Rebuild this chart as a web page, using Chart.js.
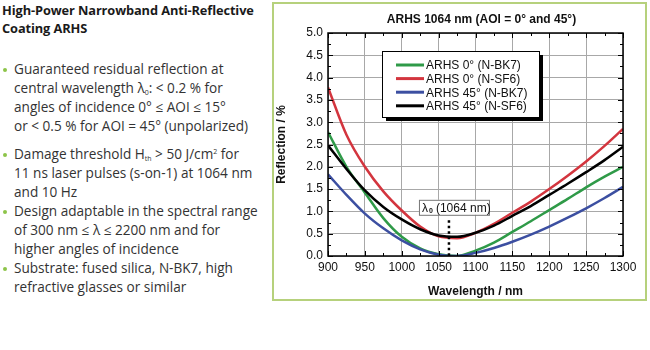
<!DOCTYPE html>
<html lang="en">
<head>
<meta charset="UTF-8">
<title>ARHS 1064 nm</title>
<script src="https://cdn.jsdelivr.net/npm/chart.js"></script>
<style>
    html, body { margin: 0; padding: 0; background: #fff; }
    body { width: 650px; height: 350px; position: relative; overflow: hidden; font-family: "Open Sans", sans-serif; }
    .head { position: absolute; left: 2px; top: 1px; font-weight: bold; font-size: 12.8px; line-height: 18.3px; color: #1a1a1a; white-space: nowrap; letter-spacing: -0.1px; }
    ul.points { position: absolute; left: 0; top: 58.7px; margin: 0; padding: 0; list-style: none; font-size: 13.6px; line-height: 19.1px; color: #333; white-space: nowrap; }
    ul.points li { position: relative; padding-left: 14px; }
    ul.points li:first-child { margin-bottom: 8.5px; }
    ul.points li::before { content: ""; position: absolute; left: 3px; top: 9px; width: 4px; height: 4px; border-radius: 50%; background: #8dc449; }
    sub { font-size: 7px; vertical-align: -2px; line-height: 0; }
    sup { font-size: 7px; vertical-align: 5px; line-height: 0; }
    .frame { position: absolute; left: 272px; top: 2px; width: 375px; height: 299px; border: 2px solid #b6d17c; box-sizing: border-box; background: #fff; }
    .frame canvas { position: absolute; left: 0; top: 0; }
</style>
</head>
<body>
    <div class="head">High-Power Narrowband Anti-Reflective<br>Coating ARHS</div>
    <ul class="points">
        <li>Guaranteed residual reflection at<br>central wavelength λ<sub>0</sub>: &lt; 0.2 % for<br>angles of incidence 0° ≤ AOI ≤ 15°<br>or &lt; 0.5 % for AOI = 45° (unpolarized)</li>
        <li>Damage threshold H<sub>th</sub> &gt; 50 J/cm<sup>2</sup> for<br>11 ns laser pulses (s-on-1) at 1064 nm<br>and 10 Hz</li>
        <li>Design adaptable in the spectral range<br>of 300 nm ≤ λ ≤ 2200 nm and for<br>higher angles of incidence</li>
        <li>Substrate: fused silica, N-BK7, high<br>refractive glasses or similar</li>
    </ul>

    <div class="frame">
        <canvas id="arhsChart" width="371" height="295"></canvas>
    </div>

    <script>
        // wavelength grid (nm) and reflection values (%)
        const wavelengths = [900, 925, 950, 975, 1000, 1025, 1050, 1075, 1100, 1125, 1150, 1175, 1200, 1225, 1250, 1275, 1300];
        const arhs0Bk7  = [2.78, 2.00, 1.42, 0.85, 0.43, 0.17, 0.04, 0.00, 0.12, 0.30, 0.54, 0.78, 1.03, 1.28, 1.54, 1.78, 2.00];
        const arhs0Sf6  = [3.78, 2.72, 2.00, 1.45, 1.02, 0.66, 0.44, 0.40, 0.52, 0.72, 0.97, 1.22, 1.50, 1.80, 2.12, 2.47, 2.85];
        const arhs45Bk7 = [1.83, 1.37, 0.95, 0.62, 0.35, 0.15, 0.03, 0.00, 0.07, 0.18, 0.32, 0.48, 0.66, 0.86, 1.07, 1.30, 1.55];
        const arhs45Sf6 = [2.48, 1.95, 1.47, 1.10, 0.82, 0.60, 0.46, 0.43, 0.52, 0.68, 0.90, 1.12, 1.37, 1.62, 1.88, 2.15, 2.45];

        const seriesLabels = ['ARHS 0° (N-BK7)', 'ARHS 0° (N-SF6)', 'ARHS 45° (N-BK7)', 'ARHS 45° (N-SF6)'];
        const seriesColors = ['#2f9a48', '#d3353e', '#3c4fa1', '#000000'];
        const seriesOrder = [3, 2, 1, 0]; // black on top, as in the original
        const centralWavelength = 1064;
        const chartTitle = 'ARHS 1064 nm (AOI = 0° and 45°)';

        const toPoints = vals => vals.map((v, i) => ({ x: wavelengths[i], y: v }));
        const allSeries = [arhs0Bk7, arhs0Sf6, arhs45Bk7, arhs45Sf6];

        // frame, inward ticks, title, lambda marker and boxed legend
        const decor = {
            id: 'decor',
            afterDraw(chart) {
                const ctx = chart.ctx;
                const a = chart.chartArea;
                const xs = chart.scales.x;
                const ys = chart.scales.y;
                ctx.save();

                // ticks pointing inward on all four sides
                ctx.strokeStyle = '#000';
                ctx.lineWidth = 1;
                ctx.beginPath();
                for (let v = 900; v <= 1300; v += 25) {
                    const px = Math.round(xs.getPixelForValue(v)) + 0.5;
                    const len = v % 50 === 0 ? 5 : 3;
                    ctx.moveTo(px, a.bottom); ctx.lineTo(px, a.bottom - len);
                    ctx.moveTo(px, a.top); ctx.lineTo(px, a.top + len);
                }
                for (let v = 0; v <= 5; v += 0.25) {
                    const py = Math.round(ys.getPixelForValue(v)) + 0.5;
                    const len = Math.round(v * 4) % 2 === 0 ? 5 : 3;
                    ctx.moveTo(a.left, py); ctx.lineTo(a.left + len, py);
                    ctx.moveTo(a.right, py); ctx.lineTo(a.right - len, py);
                }
                ctx.stroke();

                // plot frame
                ctx.lineWidth = 1.5;
                ctx.strokeRect(a.left, a.top, a.right - a.left, a.bottom - a.top);

                // title
                ctx.fillStyle = '#111';
                ctx.font = 'bold 12px "Liberation Sans", Arial, sans-serif';
                ctx.textAlign = 'center';
                ctx.textBaseline = 'middle';
                ctx.fillText(chartTitle, (a.left + a.right) / 2 + 6, a.top - 13);

                // dotted marker at the central wavelength
                const cx = xs.getPixelForValue(centralWavelength);
                ctx.setLineDash([2.5, 3]);
                ctx.lineWidth = 2.5;
                ctx.beginPath();
                ctx.moveTo(cx, ys.getPixelForValue(0.8));
                ctx.lineTo(cx, a.bottom);
                ctx.stroke();
                ctx.setLineDash([]);

                // lambda label box
                const bx = cx - 30, by = ys.getPixelForValue(1.26), bw = 70, bh = 15;
                ctx.fillStyle = '#fff';
                ctx.fillRect(bx, by, bw, bh);
                ctx.strokeStyle = '#777';
                ctx.lineWidth = 1;
                ctx.strokeRect(bx + 0.5, by + 0.5, bw, bh);
                ctx.fillStyle = '#111';
                ctx.textAlign = 'left';
                ctx.font = '12px "Liberation Sans", Arial, sans-serif';
                ctx.fillText('λ', bx + 3, by + bh / 2 + 1);
                ctx.font = 'bold 7px "Liberation Sans", Arial, sans-serif';
                ctx.fillText('0', bx + 10, by + bh / 2 + 4);
                ctx.font = '12px "Liberation Sans", Arial, sans-serif';
                ctx.fillText('(1064 nm)', bx + 17, by + bh / 2 + 1);

                // legend box with drop shadow
                const lx = a.left + 54, ly = a.top + 18, lw = 157, lh = 66;
                ctx.fillStyle = '#000';
                ctx.fillRect(lx + 4, ly + 4, lw, lh);
                ctx.fillStyle = '#fff';
                ctx.fillRect(lx, ly, lw, lh);
                ctx.strokeStyle = '#000';
                ctx.lineWidth = 1;
                ctx.strokeRect(lx + 0.5, ly + 0.5, lw, lh);
                chart.data.datasets.forEach((ds, i) => {
                    const ry = ly + 14 + i * 13.6;
                    ctx.strokeStyle = ds.borderColor;
                    ctx.lineWidth = 3;
                    ctx.beginPath();
                    ctx.moveTo(lx + 14, ry);
                    ctx.lineTo(lx + 42, ry);
                    ctx.stroke();
                    ctx.fillStyle = '#111';
                    ctx.fillText(ds.label, lx + 44, ry + 1);
                });

                ctx.restore();
            }
        };

        new Chart(document.getElementById('arhsChart'), {
            type: 'line',
            data: {
                datasets: allSeries.map((vals, i) => ({
                    label: seriesLabels[i],
                    data: toPoints(vals),
                    borderColor: seriesColors[i],
                    backgroundColor: seriesColors[i],
                    borderWidth: 2.5,
                    pointRadius: 0,
                    tension: 0.4,
                    cubicInterpolationMode: 'monotone',
                    order: seriesOrder[i],
                    fill: false,
                })),
            },
            options: {
                responsive: false,
                animation: false,
                events: [],
                layout: { padding: { top: 29, right: 22, left: 0, bottom: 0 } },
                plugins: {
                    legend: { display: false },
                    title: { display: false },
                    tooltip: { enabled: false },
                },
                scales: {
                    x: {
                        type: 'linear',
                        min: 900,
                        max: 1300,
                        afterFit: s => { s.height = 43; },
                        ticks: {
                            stepSize: 50,
                            autoSkip: false,
                            maxRotation: 0,
                            padding: 4,
                            color: '#111',
                            callback: v => String(v),
                            font: { size: 12, family: '"Liberation Sans", Arial, sans-serif' },
                        },
                        grid: { color: '#a8a8a8', lineWidth: 1, drawTicks: false },
                        border: { display: false },
                        title: {
                            display: true,
                            text: 'Wavelength / nm',
                            color: '#111',
                            padding: { top: 2, bottom: 0 },
                            font: { size: 12, weight: 'bold', family: '"Liberation Sans", Arial, sans-serif' },
                        },
                    },
                    y: {
                        min: 0,
                        max: 5,
                        afterFit: s => { s.width = 54; },
                        ticks: {
                            stepSize: 0.5,
                            padding: 5,
                            color: '#111',
                            callback: v => v.toFixed(1),
                            font: { size: 12, family: '"Liberation Sans", Arial, sans-serif' },
                        },
                        grid: { color: '#a8a8a8', lineWidth: 1, drawTicks: false },
                        border: { display: false },
                        title: {
                            display: true,
                            text: 'Reflection / %',
                            color: '#111',
                            padding: { top: 0, bottom: 2 },
                            font: { size: 12, weight: 'bold', family: '"Liberation Sans", Arial, sans-serif' },
                        },
                    },
                },
            },
            plugins: [decor],
        });
    </script>
</body>
</html>
